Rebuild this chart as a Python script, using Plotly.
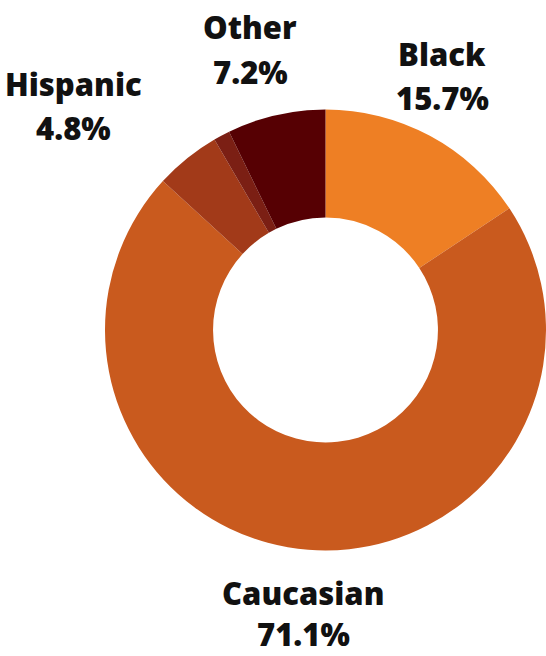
import plotly.graph_objects as go

categories = ["Black", "Caucasian", "Hispanic", "Unlabeled", "Other"]
values = [15.7, 71.1, 4.8, 1.2, 7.2]
colors = ["#EE7F24", "#C95A1E", "#A23A19", "#7B1F14", "#560003"]
label_names = ["Black", "Caucasian", "Hispanic", "Other"]
label_pcts = ["15.7%", "71.1%", "4.8%", "7.2%"]

W, H = 546, 656
# label positions in pixels (center x, name line y, percent line y)
label_pos = {
    "Black": (442, 54, 98),
    "Caucasian": (303, 593, 634),
    "Hispanic": (73, 84, 128),
    "Other": (250, 27, 72),
}

fig = go.Figure(go.Pie(
    labels=categories,
    values=values,
    marker=dict(colors=colors, line=dict(width=0)),
    hole=0.51,
    sort=False,
    direction="clockwise",
    rotation=0,
    textinfo="none",
    hoverinfo="label+percent",
    showlegend=False,
    domain=dict(x=[105 / W, 1.0], y=[1 - 551 / H, 1 - 109 / H]),
))

annotations = []
for name, pct in zip(label_names, label_pcts):
    cx, y1, y2 = label_pos[name]
    for txt, yy in ((name, y1), (pct, y2)):
        annotations.append(dict(
            x=cx / W, y=1 - yy / H, xref="paper", yref="paper",
            text=txt, showarrow=False,
            xanchor="center", yanchor="middle",
            font=dict(family="Open Sans", size=31, color="#111111", weight=800),
        ))

fig.update_layout(
    width=W, height=H,
    margin=dict(l=0, r=0, t=0, b=0),
    paper_bgcolor="white",
    plot_bgcolor="white",
    annotations=annotations,
)

fig.write_html(
    "out.html",
    config={"displayModeBar": False},
    post_script="document.body.style.margin='0';document.body.style.overflow='hidden';",
)
